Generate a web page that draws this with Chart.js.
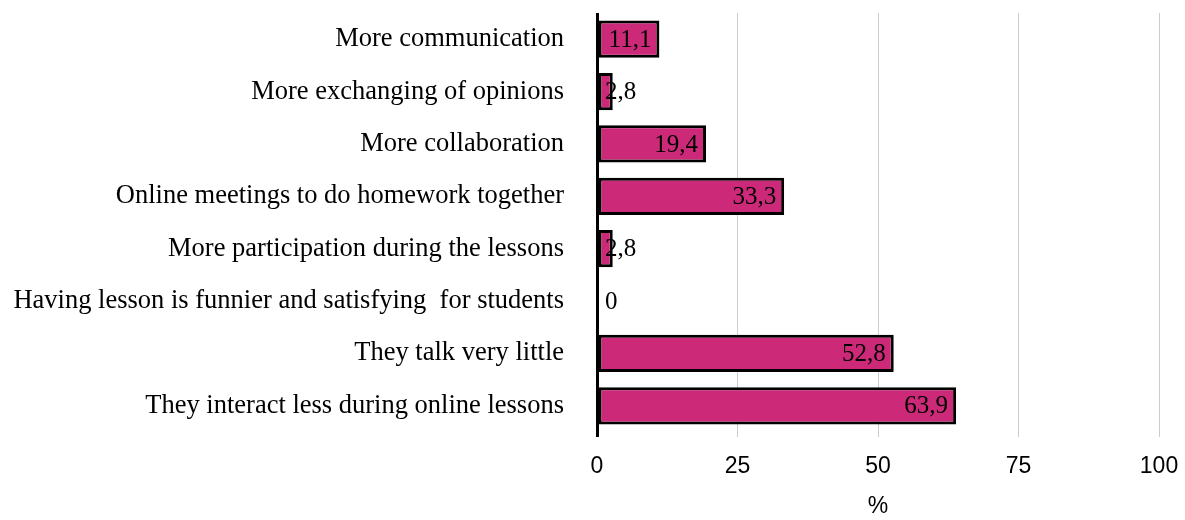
<!DOCTYPE html>
<html>
<head>
<meta charset="utf-8">
<script src="https://cdn.jsdelivr.net/npm/chart.js@4.4.1/dist/chart.umd.min.js"></script>
<style>
  html, body { margin: 0; padding: 0; background: #fff; }
  #wrap { width: 1185px; height: 520px; position: relative; }
</style>
</head>
<body>
<div id="wrap"><canvas id="chart"></canvas></div>
<script>
const categories = [
    "More communication",
    "More exchanging of opinions",
    "More collaboration",
    "Online meetings to do homework together",
    "More participation during the lessons",
    "Having lesson is funnier and satisfying  for students",
    "They talk very little",
    "They interact less during online lessons",
];
const percentages = [11.1, 2.8, 19.4, 33.3, 2.8, 0, 52.8, 63.9];
const xTicks = [0, 25, 50, 75, 100];

const serif = "'Liberation Serif', 'Times New Roman', serif";
const sans = "'Liberation Sans', Arial, sans-serif";

// value labels: right-aligned inside the bar end, pushed out past the axis for tiny bars
const valueLabels = {
    id: "valueLabels",
    afterDatasetsDraw(chart) {
        const ctx = chart.ctx;
        const meta = chart.getDatasetMeta(0);
        const axisX = chart.scales.x.getPixelForValue(0);
        ctx.save();
        ctx.font = "25px " + serif;
        ctx.fillStyle = "#000";
        ctx.textBaseline = "middle";
        ctx.textAlign = "left";
        meta.data.forEach((bar, i) => {
            const text = String(percentages[i]).replace(".", ",");
            const w = ctx.measureText(text).width;
            const left = Math.max(bar.x - 8 - w, axisX + 8);
            ctx.fillText(text, left, bar.y + 1);
        });
        ctx.restore();
    },
};

new Chart(document.getElementById("chart"), {
    type: "bar",
    data: {
        labels: categories,
        datasets: [{
            data: percentages,
            backgroundColor: "#cc2a79",
            borderColor: "#000",
            borderWidth: 3,
            borderSkipped: false,
            barPercentage: 0.71,
            categoryPercentage: 1,
        }],
    },
    options: {
        indexAxis: "y",
        responsive: true,
        maintainAspectRatio: false,
        animation: false,
        layout: { padding: { top: 13, right: 26, bottom: 0, left: 0 } },
        plugins: {
            legend: { display: false },
            tooltip: { enabled: false },
        },
        scales: {
            x: {
                min: 0,
                max: 100,
                afterBuildTicks(scale) {
                    scale.ticks = xTicks.map((v) => ({ value: v }));
                },
                afterFit(scale) {
                    scale.height = 88;
                    scale.paddingLeft = 0;
                    scale.paddingRight = 0;
                },
                grid: {
                    color: (c) => (c.index === 0 ? "#000" : "#cccccc"),
                    lineWidth: (c) => (c.index === 0 ? 3 : 1),
                    tickLength: 5,
                },
                border: { display: false },
                ticks: {
                    color: "#000",
                    font: { family: sans, size: 23 },
                    padding: 16,
                    maxRotation: 0,
                },
                title: {
                    display: true,
                    text: "%",
                    color: "#000",
                    font: { family: sans, size: 23 },
                    padding: { top: 14, bottom: 0 },
                },
            },
            y: {
                afterFit(scale) {
                    scale.width = 597;
                    // keep the tick padding from pushing the plot area down
                    scale.paddingTop = 0;
                    scale.paddingBottom = 0;
                },
                grid: { display: false, drawTicks: false },
                border: { display: false },
                ticks: {
                    color: "#000",
                    font: { family: serif, size: 26.5 },
                    padding: 33,
                },
            },
        },
    },
    plugins: [valueLabels],
});
</script>
</body>
</html>
